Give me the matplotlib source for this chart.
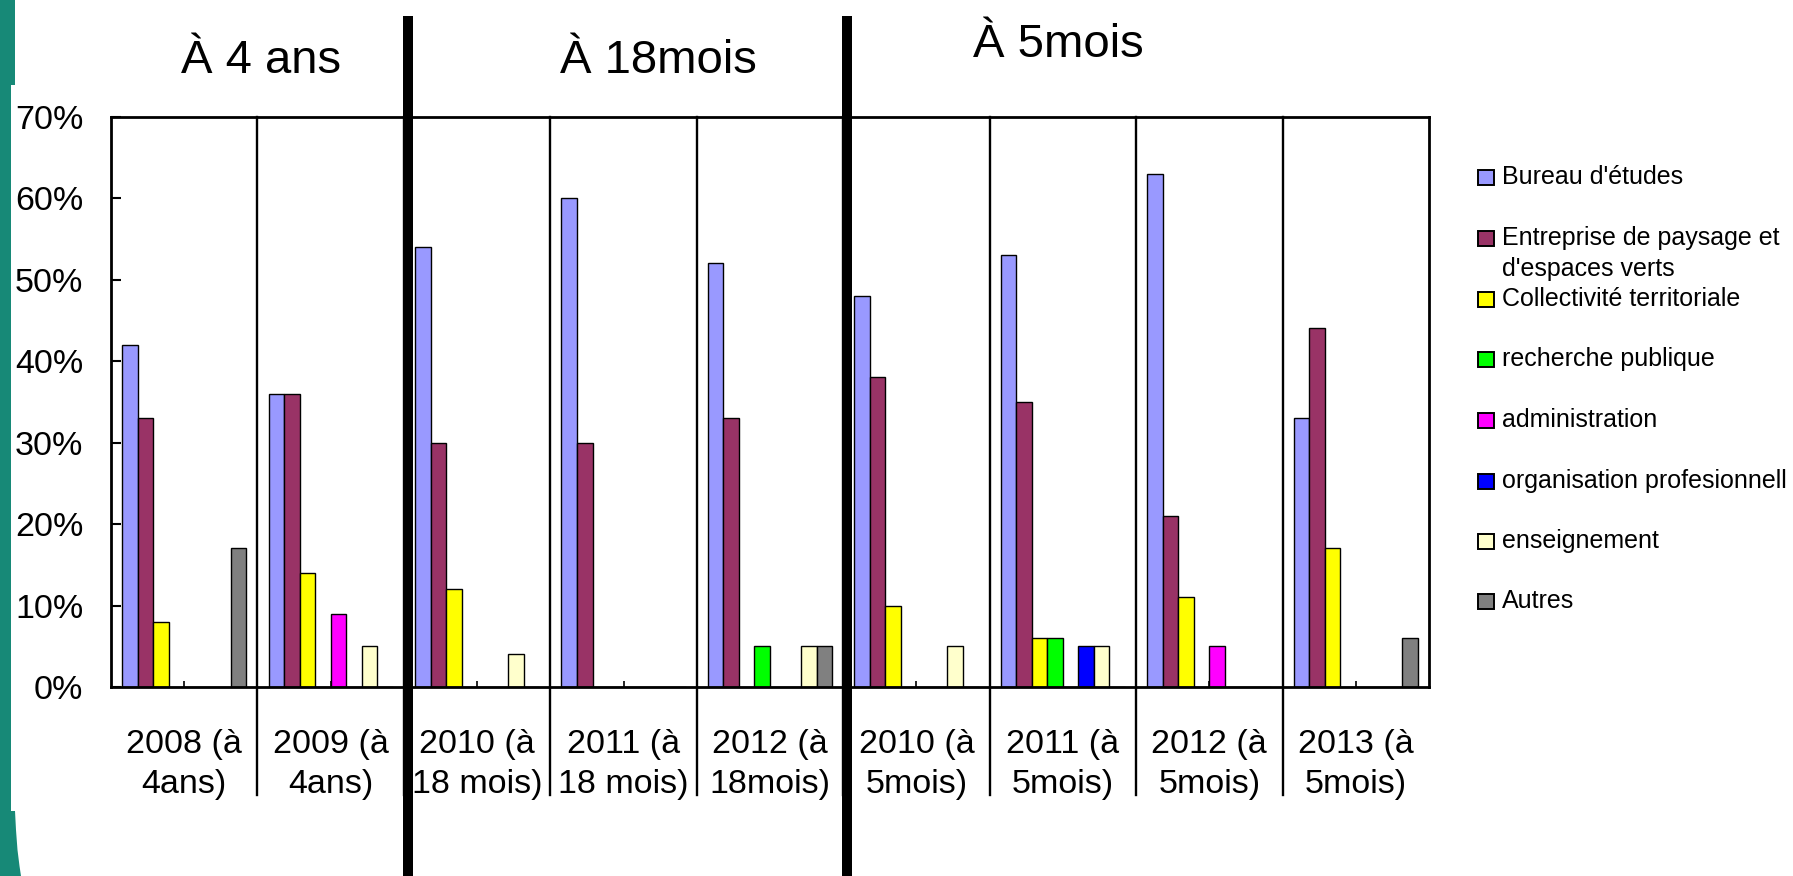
import matplotlib
matplotlib.use("Agg")
import matplotlib.pyplot as plt
from matplotlib.patches import Polygon, Rectangle
from matplotlib.ticker import FuncFormatter
import numpy as np

plt.rcParams["font.family"] = ["Liberation Sans", "DejaVu Sans"]

# data (percent)
categories = [
    "2008 (à\n4ans)", "2009 (à\n4ans)",
    "2010 (à\n18 mois)", "2011 (à\n18 mois)", "2012 (à\n18mois)",
    "2010 (à\n5mois)", "2011 (à\n5mois)", "2012 (à\n5mois)", "2013 (à\n5mois)",
]
bureau_etudes = [42, 36, 54, 60, 52, 48, 53, 63, 33]
entreprise_paysage = [33, 36, 30, 30, 33, 38, 35, 21, 44]
collectivite = [8, 14, 12, 0, 0, 10, 6, 11, 17]
recherche_publique = [0, 0, 0, 0, 5, 0, 6, 0, 0]
administration = [0, 9, 0, 0, 0, 0, 0, 5, 0]
organisation_pro = [0, 0, 0, 0, 0, 0, 5, 0, 0]
enseignement = [0, 5, 4, 0, 5, 5, 5, 0, 0]
autres = [17, 0, 0, 0, 5, 0, 0, 0, 6]

series_labels = [
    "Bureau d'études", "Entreprise de paysage et\nd'espaces verts",
    "Collectivité territoriale", "recherche publique", "administration",
    "organisation profesionnell", "enseignement", "Autres",
]
series_values = [bureau_etudes, entreprise_paysage, collectivite, recherche_publique,
                 administration, organisation_pro, enseignement, autres]
series_colors = ["#9999FF", "#993366", "#FFFF00", "#00FF00",
                 "#FF00FF", "#0000FF", "#FFFFCC", "#808080"]

headers = ["À 4 ans", "À 18mois", "À 5mois"]

W, H = 1793, 876
fig = plt.figure(figsize=(W / 100, H / 100), dpi=100)

# slide decoration on the left edge
teal = [(0, 0), (15, 0), (15, 85), (11, 85), (11, 811), (15, 811), (16, 830),
        (17.5, 850), (19.5, 866), (21, 876), (0, 876)]
fig.add_artist(Polygon([(x / W, 1 - y / H) for x, y in teal], closed=True,
                       transform=fig.transFigure, facecolor="#178977", edgecolor="none"))

ax_top, ax_bot, ax_l, ax_r = 116.5, 687, 111, 1429
ax = fig.add_axes([ax_l / W, 1 - ax_bot / H, (ax_r - ax_l) / W, (ax_bot - ax_top) / H])

x = np.arange(len(categories))
bw = 0.106
for j, (vals, col) in enumerate(zip(series_values, series_colors)):
    ax.bar(x + (j - 3.5) * bw, vals, bw, color=col, edgecolor="black", linewidth=1.0, zorder=2)

ax.set_xlim(-0.5, len(categories) - 0.5)
ax.set_ylim(0, 70)
ax.set_yticks(range(0, 71, 10))
ax.yaxis.set_major_formatter(FuncFormatter(lambda v, p: f"{v:.0f}%"))
ax.set_xticks(x)
ax.set_xticklabels(categories, fontsize=24.5, linespacing=1.38)
ax.tick_params(axis="y", direction="in", length=7.5, width=1.5, pad=20, labelsize=24.5)
ax.tick_params(axis="x", direction="in", length=4, width=1.2, pad=30)
for s in ax.spines.values():
    s.set_linewidth(2.0)
    s.set_zorder(4)

# thin separators between years
ext = (ax_bot - 795) / (ax_bot - ax_top)
for b in np.arange(0.5, len(categories) - 1, 1.0):
    ax.axvline(b, ymin=ext, ymax=1, color="black", linewidth=1.7, clip_on=False, zorder=3)

# thick separators between survey groups
lo = (ax_bot - 880) / (ax_bot - ax_top)
hi = (ax_bot - 16) / (ax_bot - ax_top)
for b in [1.5, 4.5]:
    ax.axvline(b + 0.028, ymin=lo, ymax=hi, color="black", linewidth=7.2, clip_on=False,
               zorder=5, solid_capstyle="butt")

# group headers
for txt, cx, base in zip(headers, [261, 658, 1058], [73, 73, 57]):
    fig.text(cx / W, 1 - base / H, txt, ha="center", va="baseline", fontsize=34)

# legend drawn by hand (Excel style spacing)
centers = [177, 238, 299, 359, 420, 481, 541, 601]
for lab, col, cy in zip(series_labels, series_colors, centers):
    fig.add_artist(Rectangle((1478 / W, 1 - (cy + 7.5) / H), 15.5 / W, 15 / H,
                             transform=fig.transFigure, facecolor=col,
                             edgecolor="black", linewidth=1.4))
    for k, line in enumerate(lab.split("\n")):
        fig.text(1502 / W, 1 - (cy + 31 * k) / H, line, ha="left", va="center", fontsize=18)

fig.savefig("out.png", dpi=100)
